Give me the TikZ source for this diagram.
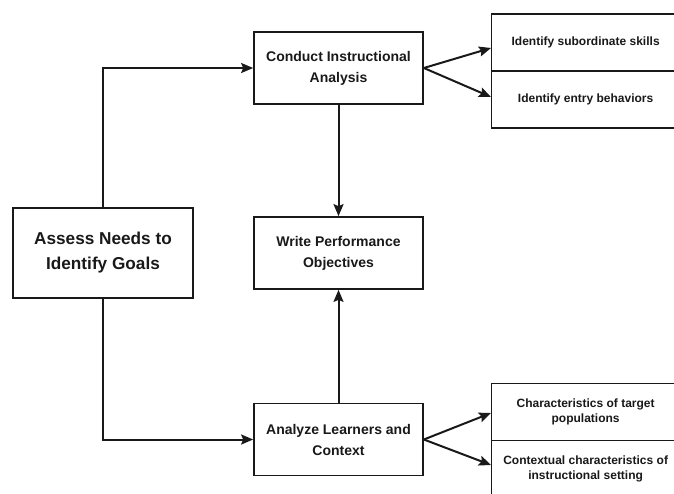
\documentclass[tikz,border=0pt]{standalone}
\usepackage{fontspec}
\setmainfont{Liberation Sans}
\usetikzlibrary{calc}
\usetikzlibrary{arrows.meta}

\tikzset{
  box/.style={draw=black!90, line width=1.7pt, align=center, inner sep=0pt,
    font=\bfseries\fontsize{14}{21}\selectfont, text=black!90},
  bigbox/.style={box, minimum width=180pt, minimum height=90pt,
    font=\bfseries\fontsize{17.2}{25}\selectfont},
  midbox/.style={box, minimum width=169pt, minimum height=72pt},
  sidebox/.style={box, anchor=west, minimum width=188pt, minimum height=57pt,
    line width=1.3pt, font=\bfseries\fontsize{12}{15}\selectfont},
  arr/.style={line width=2pt, draw=black!90, -{Stealth[length=12pt,width=10pt,inset=2pt]}}
}

\begin{document}
\begin{tikzpicture}[x=1pt,y=-1pt]
\clip (0,0) rectangle (674,493);
\fill[white] (0,0) rectangle (674,493);

\node[bigbox] (assess) at (103,253) {Assess Needs to\\Identify Goals};
\node[midbox] (conduct) at (338.5,68) {Conduct Instructional\\Analysis};
\node[midbox] (write) at (338.5,253) {Write Performance\\Objectives};
\node[midbox] (analyze) at (338.5,439.5) {Analyze Learners and\\Context};

\node[sidebox] (subskills) at (491,42.5) {Identify subordinate skills};
\node[sidebox] (entry) at (491,99.5) {Identify entry behaviors};
\node[sidebox] (target) at (491,412) {Characteristics of target\\populations};
\node[sidebox] (setting) at (491,469) {Contextual characteristics of\\instructional setting};

% links
\draw[arr] (assess.north) |- (conduct.west);
\draw[arr] (assess.south) |- (analyze.west);
\draw[arr] (conduct.south) -- (write.north);
\draw[arr] (analyze.north) -- (write.south);

\draw[arr] (conduct.east) -- ([yshift=-5.5pt]subskills.west);
\draw[arr] (conduct.east) -- ([yshift=2.5pt]entry.west);
\draw[arr] (analyze.east) -- ([yshift=-1pt]target.west);
\draw[arr] (analyze.east) -- ([yshift=4pt]setting.west);
\end{tikzpicture}
\end{document}
